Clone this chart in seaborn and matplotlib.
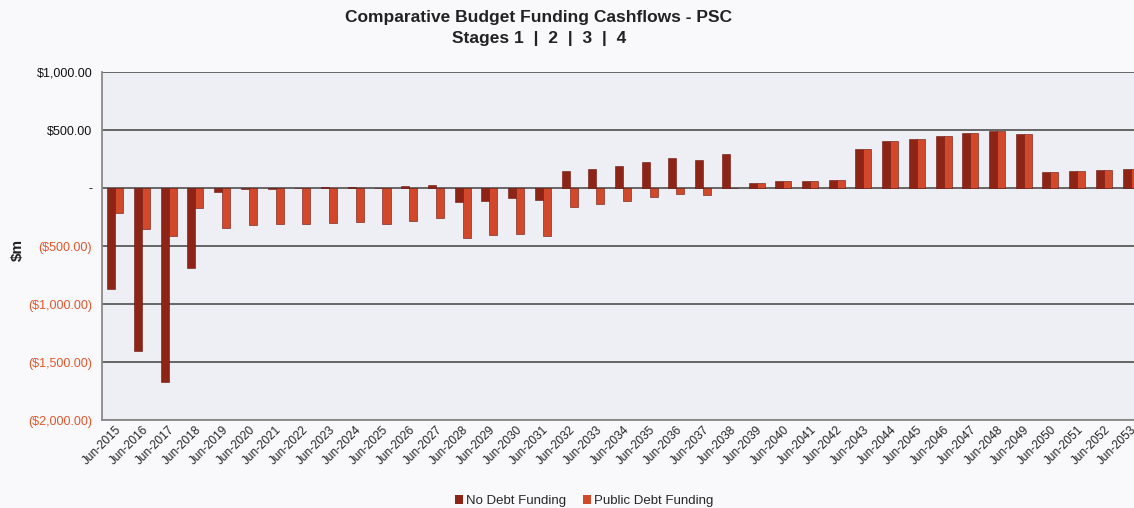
import matplotlib
matplotlib.use("Agg")
import matplotlib.pyplot as plt
from matplotlib.patches import Patch
import pandas as pd
import seaborn as sns

# Financial years (June year-end)
years = list(range(2015, 2054))
periods = [f"Jun-{y}" for y in years]

# Cashflows in $m
no_debt_funding = [
    -873, -1408, -1672, -692,
    -34, -8, -10, -3, 6, 5, 3, 18, 30,
    -120, -110, -90, -105,
    144, 164, 193, 224, 256, 245, 293,
    43, 58, 58, 66,
    340, 402, 422, 452, 471, 495, 463,
    135, 147, 158, 167,
]
public_debt_funding = [
    -215, -356, -416, -172,
    -345, -322, -313, -313, -302, -290, -313, -281, -255,
    -428, -402, -393, -416,
    -164, -135, -115, -77, -48, -63, -4,
    43, 58, 58, 66,
    340, 402, 422, 452, 471, 495, 463,
    135, 147, 158, 167,
]
series_names = ["No Debt Funding", "Public Debt Funding"]
series_colors = ["#8E2416", "#D2482A"]

y_ticks = [1000, 500, 0, -500, -1000, -1500, -2000]
y_tick_labels = ["$1,000.00", "$500.00", "-", "($500.00)", "($1,000.00)",
                 "($1,500.00)", "($2,000.00)"]

df = pd.DataFrame({
    "period": periods * 2,
    "value": no_debt_funding + public_debt_funding,
    "series": [series_names[0]] * len(periods) + [series_names[1]] * len(periods),
})

sns.set_theme(style="white")
plt.rcParams["font.family"] = ["Liberation Sans", "DejaVu Sans"]

fig = plt.figure(figsize=(11.34, 5.08), dpi=100, facecolor="#F9F9FB")
# the plot area runs slightly past the right edge of the figure
ax = fig.add_axes([0.0899, 0.1732, 0.9189, 0.685])
ax.set_facecolor("#EDEFF5")

sns.barplot(
    data=df, x="period", y="value", hue="series",
    order=periods, hue_order=series_names,
    palette=series_colors, saturation=1, width=0.6,
    edgecolor="#6A140C", linewidth=0.4, legend=False, ax=ax,
)

ax.set_xlim(-0.5, len(periods) - 0.5)
ax.set_ylim(-2000, 1000)
ax.set_yticks(y_ticks, labels=y_tick_labels)
for lbl, v in zip(ax.get_yticklabels(), y_ticks):
    lbl.set_color("#E0552C" if v < 0 else "#111111")
ax.tick_params(axis="y", labelsize=9, length=4, color="#8A8A8A", pad=3)
ax.tick_params(axis="x", labelsize=8.5, length=0, pad=3, labelcolor="#222222")
plt.setp(ax.get_xticklabels(), rotation=45, ha="right", rotation_mode="anchor")

ax.set_xlabel("")
ax.set_ylabel("")
ax.yaxis.grid(True, color="#666666", linewidth=1.4)
ax.set_axisbelow(True)
for side in ["top", "right"]:
    ax.spines[side].set_visible(False)
for side in ["left", "bottom"]:
    ax.spines[side].set_color("#8A8A8A")
    ax.spines[side].set_linewidth(1.3)

fig.text(0.475, 1 - 10 / 508,
         "Comparative Budget Funding Cashflows - PSC\nStages 1  |  2  |  3  |  4",
         ha="center", va="top", fontsize=12.5, fontweight="bold",
         color="#222222", linespacing=1.5)
fig.text(0.016, 1 - 250 / 508, "$m", rotation=90, ha="center", va="center",
         fontsize=11, fontweight="bold", color="#222222")

handles = [Patch(facecolor=c, edgecolor="none", label=n)
           for c, n in zip(series_colors, series_names)]
fig.legend(handles=handles, loc="lower center", bbox_to_anchor=(0.515, -0.022),
           ncol=2, frameon=False, fontsize=9.5, handlelength=0.6,
           handleheight=0.6, handletextpad=0.2, columnspacing=1.3)

fig.savefig("out.png", dpi=100, facecolor=fig.get_facecolor())
